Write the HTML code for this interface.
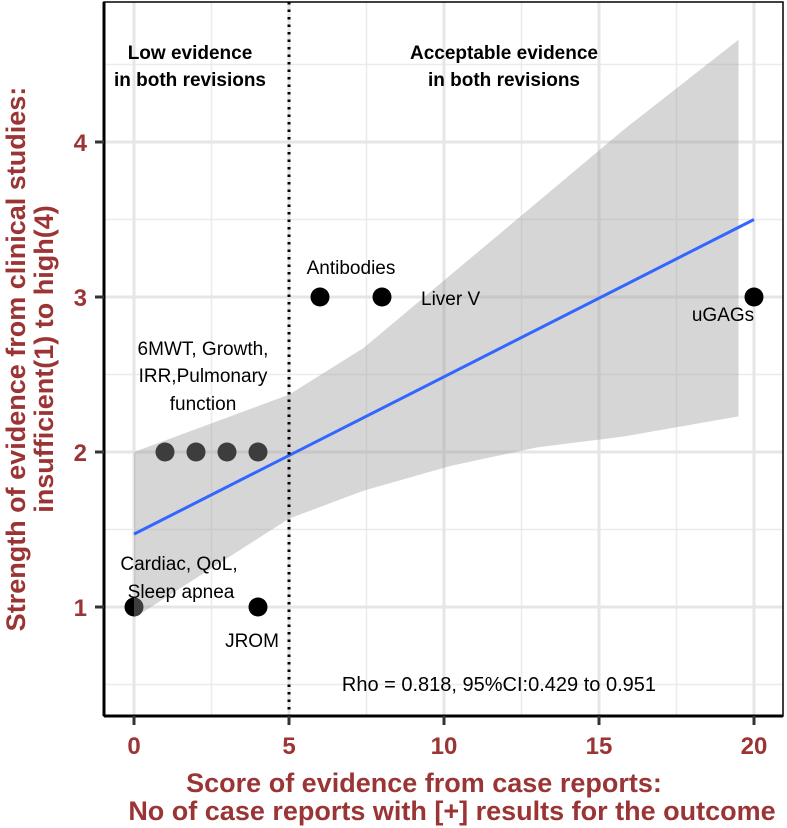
<!DOCTYPE html>
<html><head><meta charset="utf-8"><style>
html,body{margin:0;padding:0;background:#fff;}
svg{display:block;font-family:"Liberation Sans",sans-serif;}
</style></head><body>
<svg id="chart" width="787" height="828" viewBox="0 0 787 828" xmlns="http://www.w3.org/2000/svg">
<g id="grid"></g>
<g id="points"></g>
<g id="ribbon"></g>
<g id="fit"></g>
<line x1="289" y1="2" x2="289" y2="716" stroke="#000" stroke-width="3" stroke-dasharray="2.5,5"/>
<g font-size="19" fill="#000">
<text x="190" y="59" text-anchor="middle" font-weight="bold">Low evidence</text>
<text x="190" y="86" text-anchor="middle" font-weight="bold">in both revisions</text>
<text x="504" y="59" text-anchor="middle" font-weight="bold">Acceptable evidence</text>
<text x="504" y="86" text-anchor="middle" font-weight="bold">in both revisions</text>
<text x="351" y="274" text-anchor="middle">Antibodies</text>
<text x="421" y="305">Liver V</text>
<text x="723" y="321" text-anchor="middle">uGAGs</text>
<text x="203" y="355" text-anchor="middle">6MWT, Growth,</text>
<text x="203" y="382" text-anchor="middle">IRR,Pulmonary</text>
<text x="203" y="410" text-anchor="middle">function</text>
<text x="179" y="570" text-anchor="middle">Cardiac, QoL,</text>
<text x="181" y="598" text-anchor="middle">Sleep apnea</text>
<text x="252" y="647" text-anchor="middle">JROM</text>
<text x="656" y="691" text-anchor="end" font-size="20">Rho = 0.818, 95%CI:0.429 to 0.951</text>
</g>
<rect x="104" y="2" width="679" height="714" fill="none" stroke="#000" stroke-width="1.5"/>
<line x1="104" y1="2" x2="104" y2="716" stroke="#000" stroke-width="3"/>
<line x1="104" y1="716" x2="783" y2="716" stroke="#000" stroke-width="3"/>
<g id="ticks"></g>
<g fill="#9b3535" font-weight="bold" font-size="27">
<text x="424" y="792" text-anchor="middle">Score of evidence from case reports:</text>
<text x="452" y="820" text-anchor="middle">No of case reports with [+] results for the outcome</text>
<text transform="translate(25,359) rotate(-90)" text-anchor="middle">Strength of evidence from clinical studies:</text>
<text transform="translate(53,359) rotate(-90)" text-anchor="middle">insufficient(1) to high(4)</text>
</g>
</svg>
<script>
const pointX = [0, 4, 1, 2, 3, 4, 6, 8, 20];
const pointY = [1, 1, 2, 2, 2, 2, 3, 3, 3];
const ribbonX = [0, 5, 7.4, 10.2, 13, 15.8, 19.5];
const ribbonUpper = [2.0, 2.37, 2.67, 3.14, 3.61, 4.08, 4.66];
const ribbonLower = [0.93, 1.57, 1.75, 1.91, 2.03, 2.10, 2.23];
const fitX = [0, 20];
const fitY = [1.47, 3.5];
const xTicks = [0, 5, 10, 15, 20];
const yTicks = [1, 2, 3, 4];
const xMinor = [2.5, 7.5, 12.5, 17.5];
const yMinor = [0.5, 1.5, 2.5, 3.5, 4.5];

const NS = "http://www.w3.org/2000/svg";
const sx = v => 134 + v * 31;
const sy = v => 607 - (v - 1) * 155;
function mk(tag, attrs, parent) {
  const e = document.createElementNS(NS, tag);
  for (const k in attrs) e.setAttribute(k, attrs[k]);
  parent.appendChild(e);
  return e;
}
const grid = document.getElementById('grid');
xMinor.forEach(v => {
  const l = mk('line', {x1: sx(v), x2: sx(v), y1: 2, y2: 716, stroke: '#ebebeb', 'stroke-width': 1.5}, grid);
  
  
});
yMinor.forEach(v => {
  const l = mk('line', {x1: 104, x2: 783, y1: sy(v), y2: sy(v), stroke: '#ebebeb', 'stroke-width': 1.5}, grid);
  
  
});
xTicks.forEach(v => {
  const l = mk('line', {x1: sx(v), x2: sx(v), y1: 2, y2: 716, stroke: '#e6e6e6', 'stroke-width': 3}, grid);
  
  
});
yTicks.forEach(v => {
  const l = mk('line', {x1: 104, x2: 783, y1: sy(v), y2: sy(v), stroke: '#e6e6e6', 'stroke-width': 3}, grid);
  
  
});
const pts = document.getElementById('points');
pointX.forEach((x, i) => {
  const c = mk('circle', {cx: sx(x), cy: sy(pointY[i]), r: 9.5, fill: '#000'}, pts);
  
  
});
let d = '';
ribbonX.forEach((x, i) => { d += (i ? 'L' : 'M') + sx(x) + ',' + sy(ribbonUpper[i]); });
for (let i = ribbonX.length - 1; i >= 0; i--) d += 'L' + sx(ribbonX[i]) + ',' + sy(ribbonLower[i]);
d += 'Z';
const rib = mk('path', {d: d, fill: '#999999', 'fill-opacity': 0.4}, document.getElementById('ribbon'));


const fl = mk('line', {x1: sx(fitX[0]), y1: sy(fitY[0]), x2: sx(fitX[1]), y2: sy(fitY[1]), stroke: '#3366ff', 'stroke-width': 3}, document.getElementById('fit'));


const tk = document.getElementById('ticks');
xTicks.forEach(v => {
  const l = mk('line', {x1: sx(v), x2: sx(v), y1: 716, y2: 725, stroke: '#333', 'stroke-width': 3}, tk);
  
  
  const t = mk('text', {x: sx(v), y: 754, 'text-anchor': 'middle', fill: '#9b3535', 'font-weight': 'bold', 'font-size': 24}, tk);
  t.textContent = v;
  
  
});
yTicks.forEach(v => {
  const l = mk('line', {x1: 95, x2: 104, y1: sy(v), y2: sy(v), stroke: '#333', 'stroke-width': 3}, tk);
  
  
  const t = mk('text', {x: 87, y: sy(v) + 9, 'text-anchor': 'end', fill: '#9b3535', 'font-weight': 'bold', 'font-size': 24}, tk);
  t.textContent = v;
  
  
});
</script>
</body></html>
